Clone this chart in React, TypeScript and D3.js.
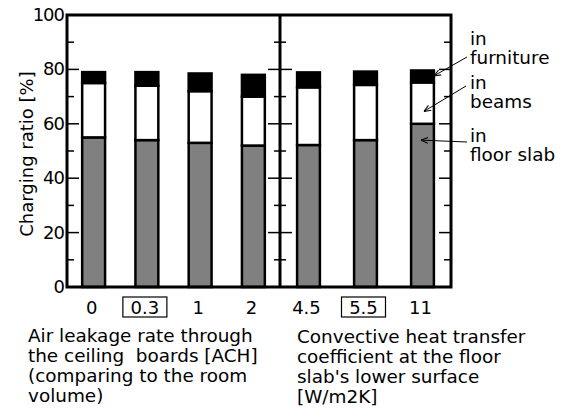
import React from "react";
import * as d3 from "d3";

const leftCats = ["0", "0.3", "1", "2"];
const rightCats = ["4.5", "5.5", "11"];
const boxedCats = ["0.3", "5.5"];
// segment heights: floor slab, beams, furniture
const slabLeft = [55, 54, 53, 52];
const beamsLeft = [20, 20, 19, 18];
const furnLeft = [4, 5, 6.5, 8];
const slabRight = [52.2, 54, 60];
const beamsRight = [21.2, 20.3, 15.2];
const furnRight = [5.5, 4.9, 4.4];
const yMajor = [0, 20, 40, 60, 80, 100];
const yMinor = [10, 30, 50, 70, 90];
const leftLabel = ["Air leakage rate through", "the ceiling  boards [ACH]", "(comparing to the room", "volume)"];
const rightLabel = ["Convective heat transfer", "coefficient at the floor", "slab's lower surface", "[W/m2K]"];
const legendItems = ["furniture", "beams", "floor slab"];

const W = 567, H = 412;
const X0 = 67, XD = 280, X1 = 451, Y0 = 287, Y1 = 15;
const FONT = "DejaVu Sans, sans-serif";

export default function App() {
  const y = d3.scaleLinear().domain([0, 100]).range([Y0, Y1]);
  const xl = d3.scaleBand().domain(leftCats).range([X0, XD]).paddingInner(0.57).paddingOuter(0.285);
  const xr = d3.scaleBand().domain(rightCats).range([XD, X1]).paddingInner(0.6).paddingOuter(0.3);

  const bars: any[] = [];
  const addBars = (scale: any, cats: string[], s: number[], b: number[], f: number[]) => {
    cats.forEach((c, i) => {
      const x = scale(c);
      const w = scale.bandwidth();
      const segs = [
        { lo: 0, hi: s[i], fill: "#808080" },
        { lo: s[i], hi: s[i] + b[i], fill: "#ffffff" },
        { lo: s[i] + b[i], hi: s[i] + b[i] + f[i], fill: "#000000" },
      ];
      segs.forEach((sg, k) => {
        bars.push(
          <rect key={c + k} x={x} y={y(sg.hi)} width={w} height={y(sg.lo) - y(sg.hi)} fill={sg.fill} stroke="#000" strokeWidth={2.5} />
        );
      });
    });
  };
  addBars(xl, leftCats, slabLeft, beamsLeft, furnLeft);
  addBars(xr, rightCats, slabRight, beamsRight, furnRight);

  const tickLabel = (scale: any, c: string) => {
    const cx = scale(c) + scale.bandwidth() / 2 - 2;
    const boxed = boxedCats.includes(c);
    return (
      <g key={"t" + c}>
        {boxed && <rect x={cx - 22} y={297} width={44} height={20} fill="none" stroke="#000" strokeWidth={1.2} />}
        <text x={cx} y={314} textAnchor="middle" fontSize={18} fontFamily={FONT}>{c}</text>
      </g>
    );
  };

  const bx = xr(rightCats[2])! + xr.bandwidth();
  const last = 2;
  const arrows = [
    { from: [467, 57], to: [bx, y(slabRight[last] + beamsRight[last] + furnRight[last] - 2)] },
    { from: [466, 86], to: [bx - 10, y(slabRight[last] + beamsRight[last] * 0.3)] },
    { from: [467, 142], to: [bx - 13, y(slabRight[last] * 0.9)] },
  ];

  return (
    <svg width={W} height={H} style={{ position: "absolute", left: 0, top: 0 }}>
      <defs>
        <marker id="ah" viewBox="0 0 10 10" refX="10" refY="5" markerWidth="7" markerHeight="7" orient="auto">
          <path d="M0,1 L10,5 L0,9" fill="none" stroke="#000" strokeWidth={1.5} />
        </marker>
      </defs>
      <rect width={W} height={H} fill="#fff" />
      {bars}
      {yMajor.map((v) => (
        <g key={"M" + v}>
          <line x1={X0} x2={X0 + 12} y1={y(v)} y2={y(v)} stroke="#000" strokeWidth={1.5} />
          <line x1={XD - 12} x2={XD + 12} y1={y(v)} y2={y(v)} stroke="#000" strokeWidth={1.5} />
          <line x1={X1 - 12} x2={X1} y1={y(v)} y2={y(v)} stroke="#000" strokeWidth={1.5} />
          <text x={64} y={y(v) + 6} textAnchor="end" fontSize={18} fontFamily={FONT} letterSpacing={-1}>{v}</text>
        </g>
      ))}
      {yMinor.map((v) => (
        <g key={"m" + v}>
          <line x1={X0} x2={X0 + 7} y1={y(v)} y2={y(v)} stroke="#000" strokeWidth={1.5} />
          <line x1={XD - 6} x2={XD + 6} y1={y(v)} y2={y(v)} stroke="#000" strokeWidth={1.5} />
          <line x1={X1 - 7} x2={X1} y1={y(v)} y2={y(v)} stroke="#000" strokeWidth={1.5} />
        </g>
      ))}
      <rect x={X0} y={Y1} width={X1 - X0} height={Y0 - Y1} fill="none" stroke="#000" strokeWidth={3} />
      <line x1={XD} x2={XD} y1={Y1} y2={Y0} stroke="#000" strokeWidth={3} />
      {leftCats.map((c) => tickLabel(xl, c))}
      {rightCats.map((c) => tickLabel(xr, c))}
      <text transform={`translate(33,${(Y0 + Y1) / 2 + 3}) rotate(-90)`} textAnchor="middle" fontSize={18} fontFamily={FONT}>Charging ratio [%]</text>
      <text fontSize={18.4} fontFamily={FONT} style={{ whiteSpace: "pre" }}>
        {leftLabel.map((t, i) => (
          <tspan key={"ll" + i} x={28} y={342 + i * 20}>{t}</tspan>
        ))}
      </text>
      <text fontSize={18.4} fontFamily={FONT}>
        {rightLabel.map((t, i) => (
          <tspan key={"rl" + i} x={297} y={343 + i * 20}>{t}</tspan>
        ))}
      </text>
      {legendItems.map((t, i) => {
        const base = [45, 89, 142][i];
        return (
          <text key={"lg" + i} fontSize={18.4} fontFamily={FONT}>
            <tspan x={470} y={base}>in</tspan>
            <tspan x={470} y={base + 18.5}>{t}</tspan>
          </text>
        );
      })}
      {arrows.map((a, i) => (
        <line key={"ar" + i} x1={a.from[0]} y1={a.from[1]} x2={a.to[0]} y2={a.to[1]} stroke="#000" strokeWidth={1} markerEnd="url(#ah)" />
      ))}
    </svg>
  );
}
